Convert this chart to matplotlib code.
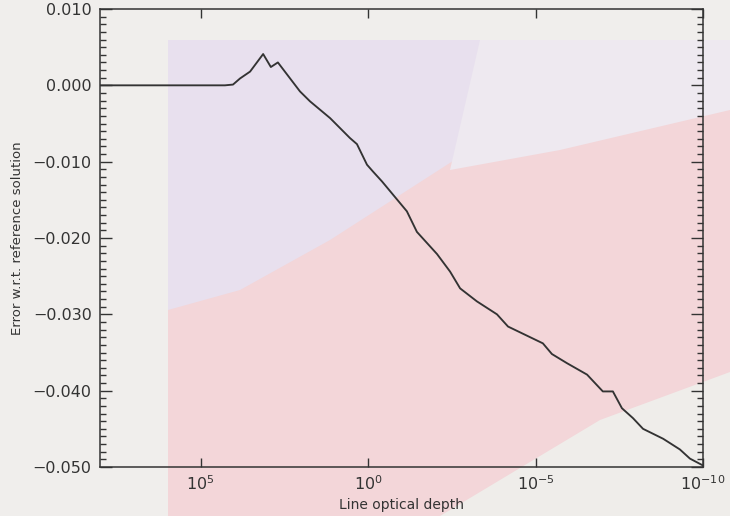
import numpy as np
import matplotlib
matplotlib.use('Agg')
import matplotlib.pyplot as plt
from matplotlib.patches import Polygon
from matplotlib.ticker import FixedLocator, MultipleLocator, FuncFormatter

# error curve: log10 of line optical depth vs error w.r.t. reference solution
log_tau = [8.0, 4.27, 4.03, 3.82, 3.52, 3.13, 2.90, 2.69, 2.03, 1.73, 1.13,
           0.54, 0.33, 0.03, -0.15, -0.42, -1.16, -1.46, -2.06, -2.45, -2.75,
           -3.25, -3.85, -4.18, -5.22, -5.49, -5.94, -6.54, -7.01, -7.31,
           -7.58, -7.91, -8.21, -8.81, -9.31, -9.61, -10.0]
error = [0.0, 0.0, 0.0001, 0.0009, 0.0018, 0.0041, 0.0024, 0.0030, -0.0008,
         -0.0021, -0.0043, -0.0069, -0.0077, -0.0104, -0.0113, -0.0126,
         -0.0165, -0.0192, -0.0221, -0.0244, -0.0266, -0.0283, -0.0300,
         -0.0316, -0.0338, -0.0352, -0.0364, -0.0379, -0.0401, -0.0401,
         -0.0423, -0.0436, -0.0450, -0.0463, -0.0477, -0.0489, -0.0498]
x_ticks = [1e5, 1e0, 1e-5, 1e-10]
y_ticks = [0.010, 0.000, -0.010, -0.020, -0.030, -0.040, -0.050]

W, H = 730, 516
ink = '#333333'

fig = plt.figure(figsize=(W / 100, H / 100), dpi=100, facecolor='#f0eeec')

# paper tint behind the plot, in pixel coordinates
bg = fig.add_axes([0, 0, 1, 1], zorder=0)
bg.set_xlim(0, W)
bg.set_ylim(H, 0)
bg.axis('off')
bg.add_patch(Polygon([(168, 40), (730, 40), (730, 516), (168, 516)],
                     closed=True, fc='#f3d6d9', ec='none'))
bg.add_patch(Polygon([(168, 40), (620, 40), (620, 110), (470, 150),
                      (330, 240), (240, 290), (168, 310)],
                     closed=True, fc='#e8e0ee', ec='none'))
bg.add_patch(Polygon([(480, 40), (730, 40), (730, 110), (560, 150),
                      (450, 170)],
                     closed=True, fc='#eee9f0', ec='none'))
bg.add_patch(Polygon([(440, 516), (600, 420), (730, 372), (730, 516)],
                     closed=True, fc='#efedea', ec='none'))

ax = fig.add_axes([100 / W, 1 - 467 / H, 603 / W, 458 / H], zorder=1)
ax.patch.set_alpha(0)

tau = [10.0 ** v for v in log_tau]
ax.plot(tau, error, color=ink, lw=1.35)

ax.set_xscale('log')
ax.set_xlim(1e8, 1e-10)
ax.set_ylim(-0.050, 0.010)

ax.xaxis.set_major_locator(FixedLocator(x_ticks))
ax.xaxis.set_minor_locator(FixedLocator([]))
ax.xaxis.set_major_formatter(
    FuncFormatter(lambda v, p: r'$10^{%d}$' % round(np.log10(v))))
ax.yaxis.set_major_locator(FixedLocator(y_ticks))
ax.yaxis.set_minor_locator(MultipleLocator(0.001))
ax.yaxis.set_major_formatter(
    FuncFormatter(lambda v, p: ('%.3f' % v).replace('-', '\u2212')))

ax.tick_params(which='both', direction='in', top=True, right=True,
               color=ink, labelcolor=ink, width=1)
ax.tick_params(axis='y', which='major', length=8.5, pad=6, labelsize=11.5)
ax.tick_params(axis='y', which='minor', length=4.3)
ax.tick_params(axis='x', which='major', length=6.5, pad=5, labelsize=11.5)

for s in ax.spines.values():
    s.set_color(ink)
    s.set_linewidth(1.1)

ax.set_xlabel('Line optical depth', color=ink, fontsize=10, labelpad=4)
ax.set_ylabel('Error w.r.t. reference solution', color=ink, fontsize=9.5,
              labelpad=6)

fig.savefig('out.png', dpi=100, facecolor=fig.get_facecolor())
